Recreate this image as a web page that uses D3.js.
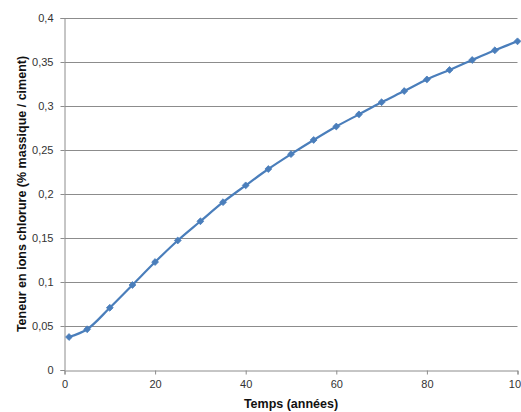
<!DOCTYPE html>
<html><head><meta charset="utf-8">
<script src="https://cdn.jsdelivr.net/npm/d3@7"></script>
<style>
html,body{margin:0;padding:0;background:#fff;overflow:hidden}
text{font-family:"Liberation Sans",Arial,sans-serif}
</style></head>
<body><svg id="c" width="521" height="412"></svg>
<script>
const years = [1,5,10,15,20,25,30,35,40,45,50,55,60,65,70,75,80,85,90,95,100];
const chloride = [0.0375,0.0463,0.0707,0.0966,0.1227,0.1472,0.169,0.1907,0.2098,0.2284,0.2453,0.2614,0.2767,0.2905,0.3043,0.317,0.3302,0.341,0.3523,0.3633,0.3735];
const xTicks = [0,20,40,60,80,100];
const yTicks = [0,0.05,0.1,0.15,0.2,0.25,0.3,0.35,0.4];
const xTitle = "Temps (années)";
const yTitle = "Teneur en ions chlorure (% massique / ciment)";

const svg = d3.select("#c");
const x = d3.scaleLinear().domain([0,100]).range([64.5,517.5]);
const y = d3.scaleLinear().domain([0,0.4]).range([370,18]);
const fmt = d => String(+d.toFixed(2)).replace(".", ",");
const grid = "#8c8c8c";

// gridlines
svg.append("g").selectAll("line").data(yTicks.filter(d=>d>0)).join("line")
  .attr("x1",x(0)).attr("x2",x(100)).attr("y1",d=>Math.round(y(d))+0.5).attr("y2",d=>Math.round(y(d))+0.5)
  .attr("stroke",grid).attr("stroke-width",1);

// y axis
const ya = svg.append("g").attr("transform",`translate(${x(0)},0)`)
  .call(d3.axisLeft(y).tickValues(yTicks).tickFormat(fmt).tickSize(4).tickPadding(7));
ya.select(".domain").attr("stroke",grid);
ya.selectAll(".tick line").attr("stroke",grid);
ya.selectAll("text").attr("font-size",11).attr("fill","#333");

// x axis
const xa = svg.append("g").attr("transform",`translate(0,${y(0)+0.5})`)
  .call(d3.axisBottom(x).tickValues(xTicks).tickFormat(d=>d).tickSize(4).tickPadding(6));
xa.select(".domain").attr("stroke",grid);
xa.selectAll(".tick line").attr("stroke",grid);
xa.selectAll("text").attr("font-size",11).attr("fill","#333");

// titles
svg.append("text").attr("x",(x(0)+x(100))/2).attr("y",408).attr("text-anchor","middle")
  .attr("font-size",12.5).attr("font-weight","bold").attr("fill","#111").text(xTitle);
svg.append("text").attr("transform",`translate(26,${y(0.2)}) rotate(-90)`).attr("text-anchor","middle")
  .attr("font-size",12.5).attr("font-weight","bold").attr("fill","#111").text(yTitle);

// line
const pts = years.map((t,i)=>[t,chloride[i]]);
svg.append("path").datum(pts)
  .attr("d", d3.line().x(d=>x(d[0])).y(d=>y(d[1])).curve(d3.curveCatmullRom.alpha(0.5)))
  .attr("fill","none").attr("stroke","#4a7ebb").attr("stroke-width",2.2);

// markers
svg.append("g").selectAll("path").data(pts).join("path")
  .attr("transform",d=>`translate(${x(d[0])},${y(d[1])})`)
  .attr("d",d3.symbol(d3.symbolDiamond2,30))
  .attr("fill","#4a7ebb").attr("stroke","#4a7ebb").attr("stroke-width",0.8);
</script></body></html>
